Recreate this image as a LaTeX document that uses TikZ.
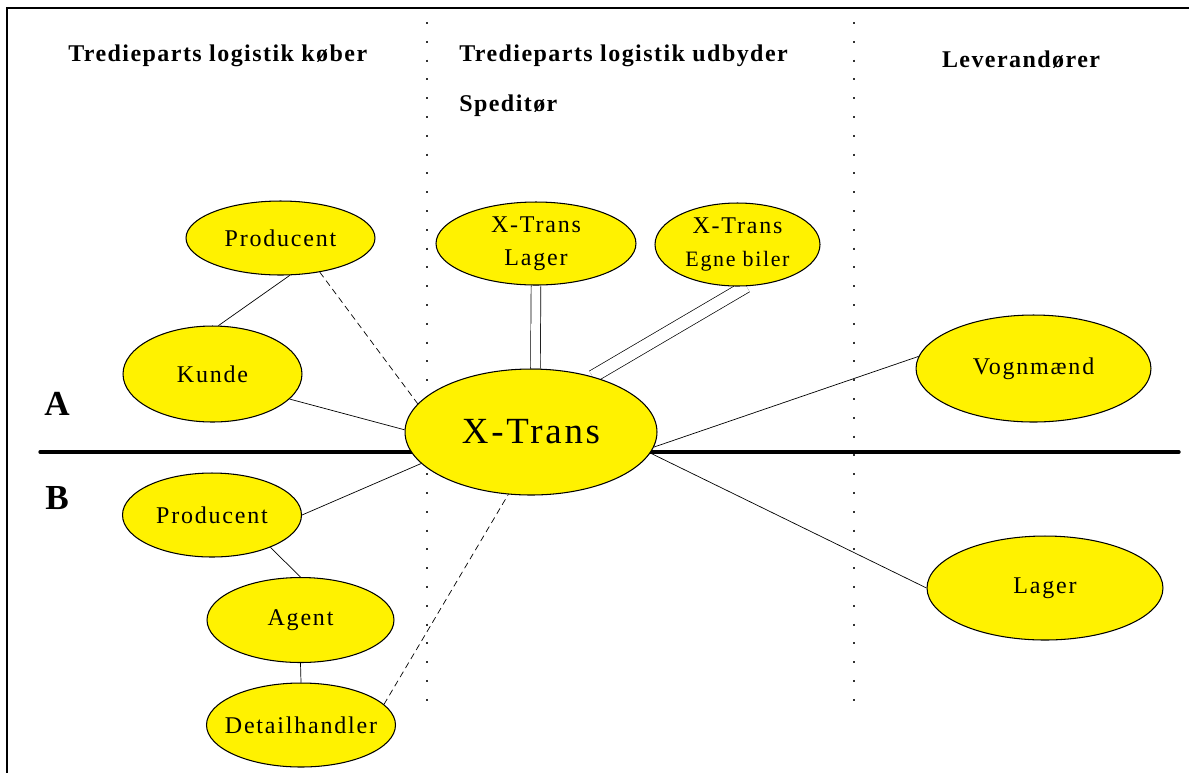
\documentclass[tikz,border=0pt]{standalone}
\usepackage{fontspec}
\setmainfont{Liberation Serif}
\newfontfamily\lblfont{Liberation Serif}[LetterSpace=7.5]
\newfontfamily\hdrfont{Liberation Serif}[LetterSpace=6]
\usetikzlibrary{shapes,positioning,backgrounds}

\begin{document}
\begin{tikzpicture}[x=0.02cm,y=-0.02cm,line width=0.5pt,
  main node/.style={ellipse,draw,fill=yellow,inner sep=0pt,line width=0.6pt,font=\lblfont\fontsize{13.66}{18.8}\selectfont,align=center},
  head/.style={anchor=base,font=\hdrfont\bfseries\fontsize{13.66}{16}\selectfont},
  side/.style={anchor=base,font=\bfseries\fontsize{20}{24}\selectfont},
  loose/.style={dash pattern=on 3.6pt off 2.4pt},
  divider/.style={line width=0.85pt,black!80,dash pattern=on 1.1pt off 9.6pt}]
  \useasboundingbox (0,0) rectangle (1189,772);
  \draw[line width=1.1pt] (7,780) -- (7,8) -- (1195,8);
  \draw[divider] (427,22) -- (427,715);
  \draw[divider] (854,22) -- (854,715);
  \draw[line width=1.9pt,line cap=round] (40,452) -- (1179,452);

  \node[head,anchor=base west] (hbuy) at (62,61) {Tredieparts logistik køber};
  \node[head,anchor=base west] (hsell) at (453,61) {Tredieparts logistik udbyder};
  \node[head,anchor=base west] (hsped) at (453,111) {Speditør};
  \node[head] (hlev) at (1021,67) {Leverandører};
  \node[side] (la) at (57,415) {A};
  \node[side] (lb) at (57,509) {B};

  \node[main node,minimum width=3.78cm,minimum height=1.48cm] (prodA) at (280.5,238) {Producent};
  \node[main node,minimum width=3.58cm,minimum height=1.92cm] (kunde) at (212.5,374) {Kunde};
  \node[main node,minimum width=5.04cm,minimum height=2.52cm,font=\lblfont\fontsize{21}{26}\selectfont] (xt) at (531,432) {X-Trans};
  \node[main node,minimum width=4.00cm,minimum height=1.66cm] (xlag) at (536,243.5) {X-Trans\\Lager};
  \node[main node,minimum width=3.30cm,minimum height=1.66cm] (xbil) at (737.5,244.5) {X-Trans\\{\fontsize{12.5}{14}\selectfont Egne biler}};
  \node[main node,minimum width=4.70cm,minimum height=2.14cm] (vogn) at (1033.5,368.5) {Vognmænd};
  \node[main node,minimum width=4.72cm,minimum height=2.08cm] (lager) at (1045,588) {Lager};
  \node[main node,minimum width=3.58cm,minimum height=1.68cm] (prodB) at (212,515) {Producent};
  \node[main node,minimum width=3.74cm,minimum height=1.70cm] (agent) at (300.5,620) {Agent};
  \node[main node,minimum width=3.78cm,minimum height=1.68cm,inner xsep=-6pt] (detail) at (301,725) {Detailhandler};

  \begin{scope}[on background layer]
  \draw (prodA.284) -- (kunde.83.5);
  \draw[loose] (prodA.-41) -- (xt.166);
  \draw (kunde.-18) -- (xt.179);
  \draw[double,double distance=0.18cm] (xlag.south) -- (xt.86);
  \draw[double,double distance=0.24cm] (xbil.282) -- (xt.42);
  \draw (xt.-7.5) -- (vogn.174.4);
  \draw (xt.-10.3) -- (lager.180);
  \draw (xt.196) -- (prodB.0);
  \draw (prodB.-29) -- (agent.90);
  \draw (agent.south) -- (detail.north);
  \draw[loose] (detail.14.7) -- (xt.-110);
  \end{scope}
\end{tikzpicture}
\end{document}
